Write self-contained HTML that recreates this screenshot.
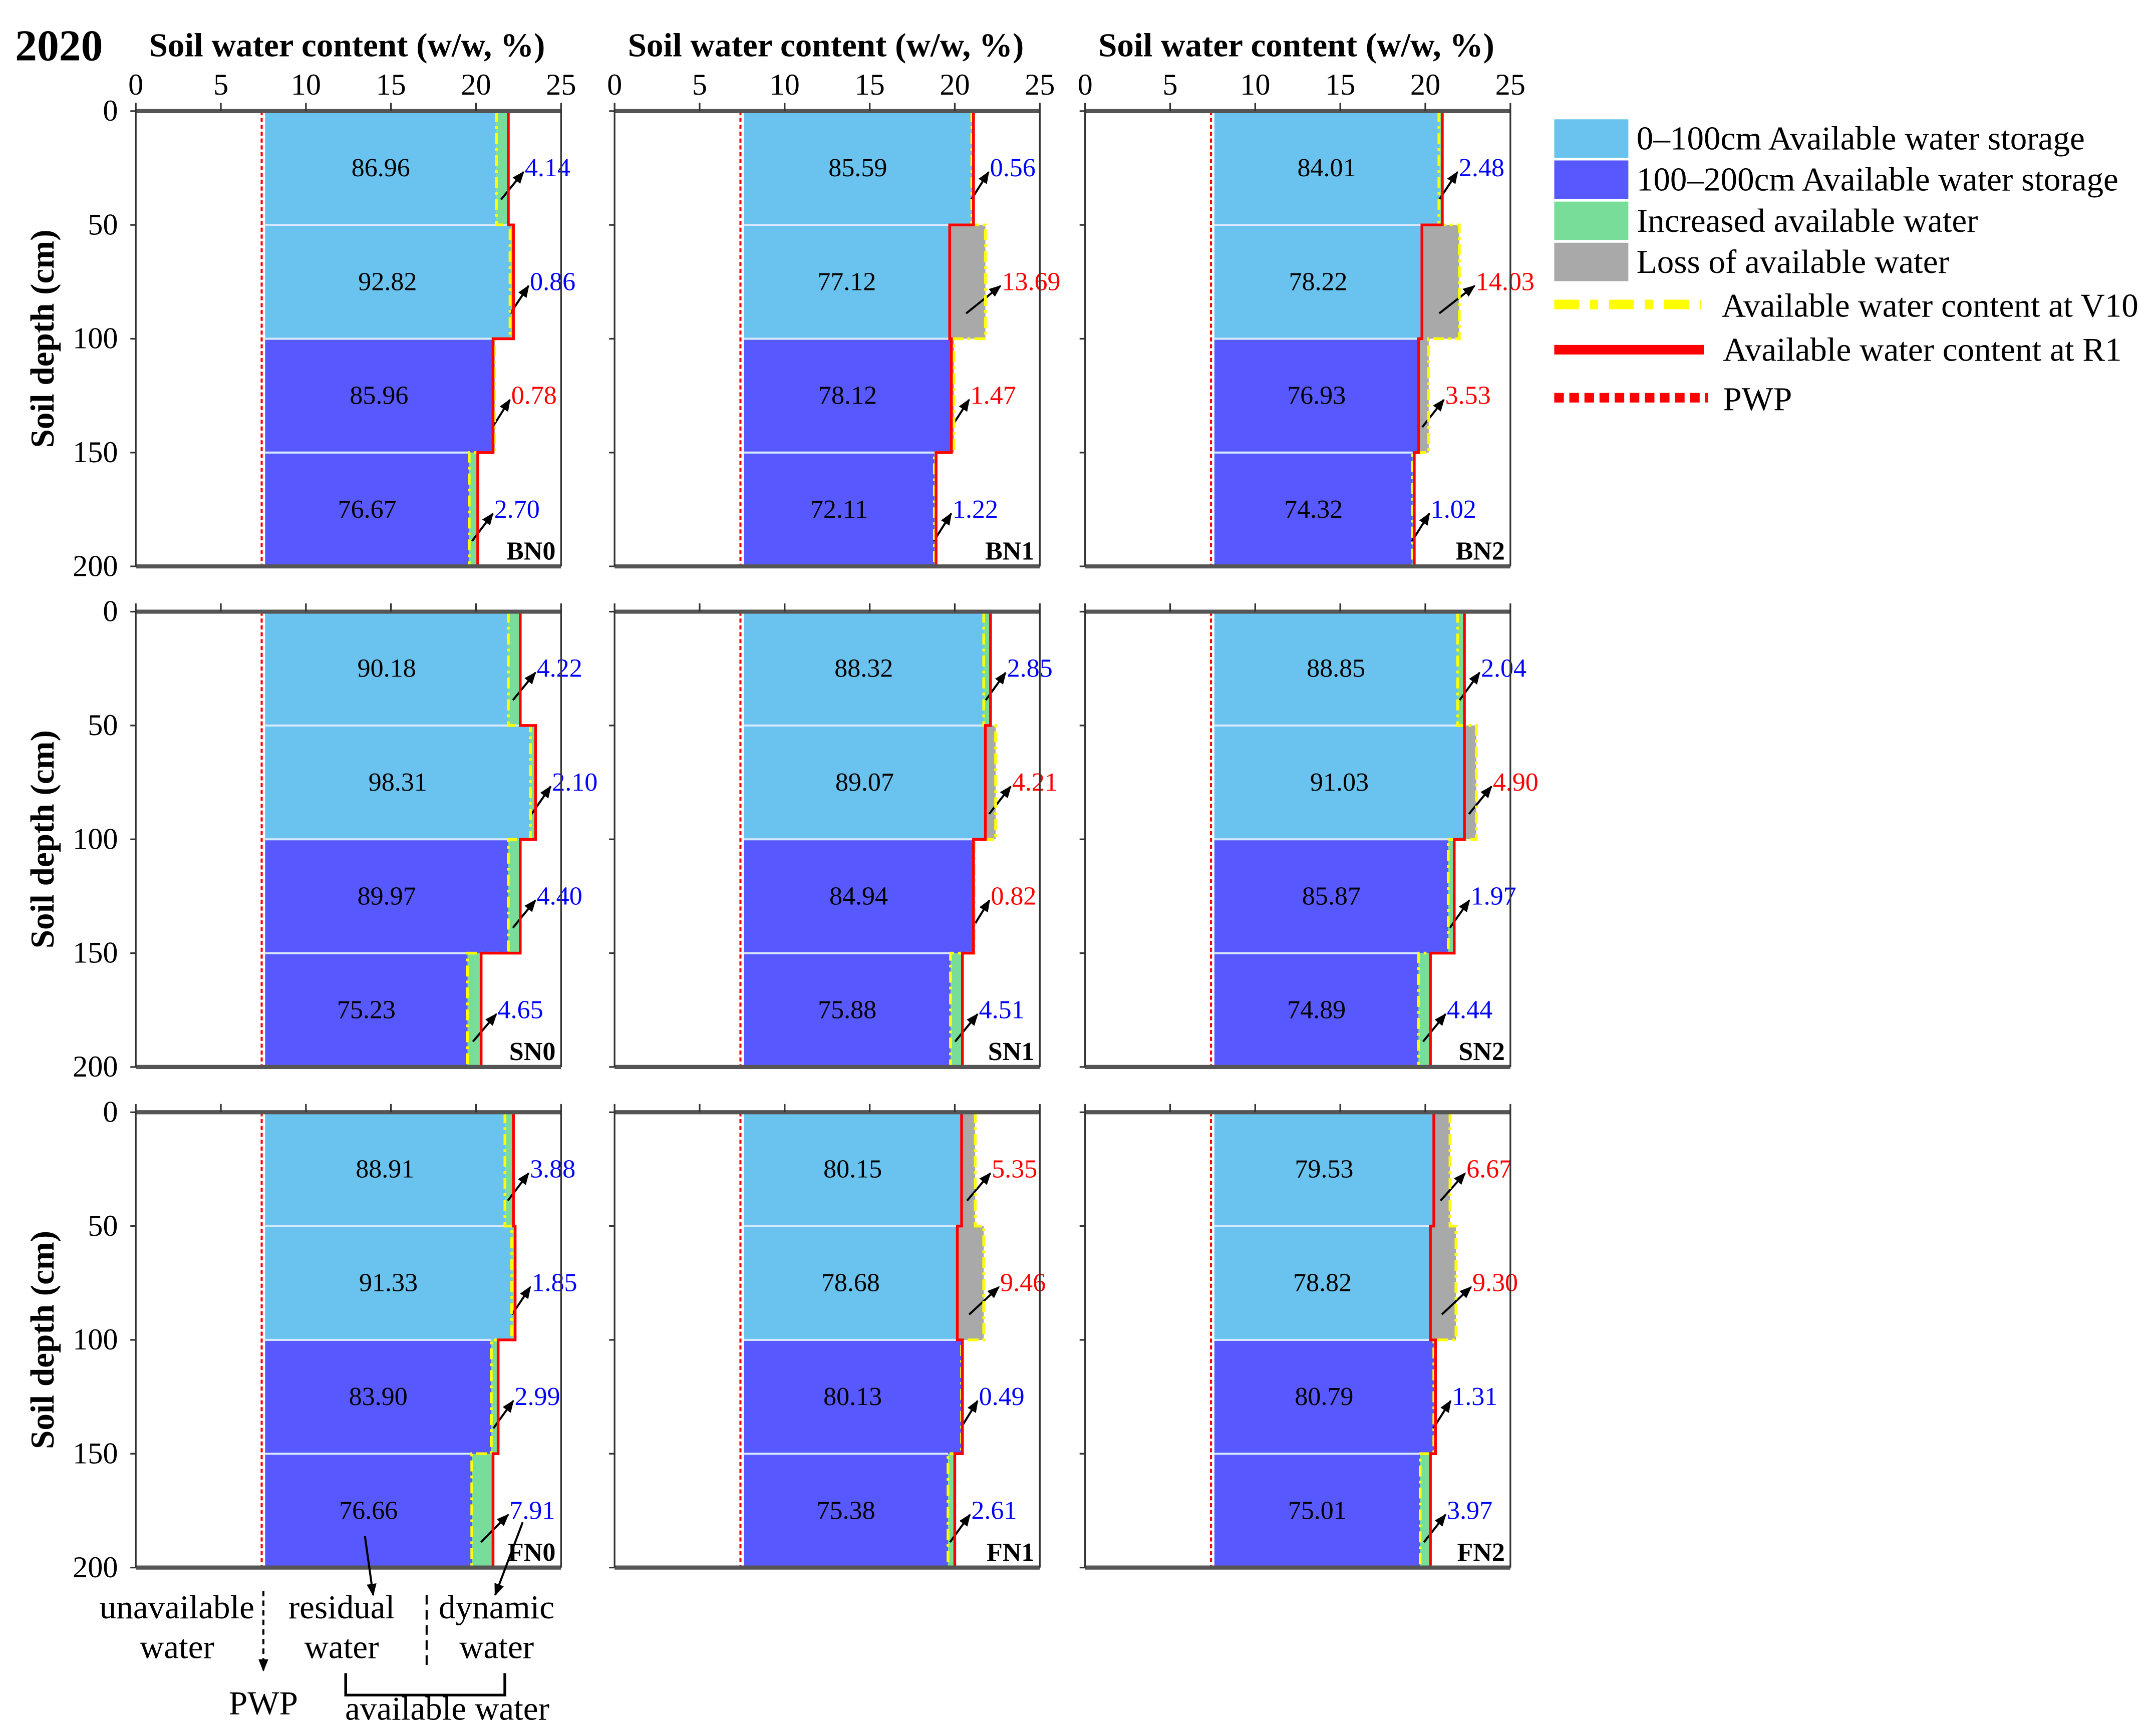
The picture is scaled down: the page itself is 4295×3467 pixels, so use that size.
<!DOCTYPE html>
<html><head><meta charset="utf-8"><style>
html,body{margin:0;padding:0;background:#fff}
svg, svg text{font-family:"Liberation Serif","Times New Roman","DejaVu Serif",serif}
</style></head><body>
<svg id="chart" width="4295" height="3462" viewBox="0 0 1568 1264" preserveAspectRatio="none" xmlns="http://www.w3.org/2000/svg" font-family="Liberation Serif, serif">
<defs><marker id="ah" viewBox="0 0 10 10" refX="9" refY="5" markerWidth="6" markerHeight="6" orient="auto"><path d="M0,1 L10,5 L0,9 z" fill="#000"/></marker></defs>
<text x="11" y="44" font-size="32" font-weight="bold">2020</text>
<g id="panels"></g>
<g font-size="24.5">
  <rect x="1133" y="87" width="54" height="28" fill="#6AC3EE"/>
  <text x="1193" y="109">0–100cm Available water storage</text>
  <rect x="1133" y="117" width="54" height="28" fill="#5858FF"/>
  <text x="1193" y="139">100–200cm Available water storage</text>
  <rect x="1133" y="147" width="54" height="28" fill="#77DD99"/>
  <text x="1193" y="169">Increased available water</text>
  <rect x="1133" y="177" width="54" height="28" fill="#A9A9A9"/>
  <text x="1193" y="199">Loss of available water</text>
  <line x1="1133" y1="222" x2="1240" y2="222" stroke="#FFFF00" stroke-width="7" stroke-dasharray="18,8,6,8"/>
  <text x="1255" y="231">Available water content at V10</text>
  <line x1="1133" y1="255" x2="1242" y2="255" stroke="#FF0000" stroke-width="7"/>
  <text x="1256" y="263">Available water content at R1</text>
  <line x1="1133" y1="290" x2="1245" y2="290" stroke="#FF0000" stroke-width="7" stroke-dasharray="7,4"/>
  <text x="1256" y="299">PWP</text>
</g>
<g font-size="24.5" text-anchor="middle">
  <text x="129" y="1180">unavailable</text>
  <text x="129" y="1209">water</text>
  <line x1="192" y1="1160" x2="192" y2="1218" stroke="#000" stroke-width="1.5" stroke-dasharray="4,3" marker-end="url(#ah)"/>
  <text x="249" y="1180">residual</text>
  <text x="249" y="1209">water</text>
  <line x1="311" y1="1163" x2="311" y2="1216" stroke="#000" stroke-width="1.5" stroke-dasharray="7,4"/>
  <text x="362" y="1180">dynamic</text>
  <text x="362" y="1209">water</text>
  <path d="M252,1220 V1236 H368 V1220" fill="none" stroke="#000" stroke-width="2"/>
  <text x="192" y="1250">PWP</text>
  <text x="326" y="1254">available water</text>
  <line x1="266" y1="1120" x2="272" y2="1163" stroke="#000" stroke-width="1.5" marker-end="url(#ah)"/>
  <line x1="381" y1="1110" x2="361" y2="1163" stroke="#000" stroke-width="1.5" marker-end="url(#ah)"/>
</g>
</svg>
<script>
const panelNames = ["BN0","BN1","BN2","SN0","SN1","SN2","FN0","FN1","FN2"];
const v10Values = [
 [21.2,22.0,21.1,19.6],[21.0,21.8,19.95,18.8],[20.8,22.0,20.2,19.25],
 [21.9,23.2,21.9,19.5],[21.7,22.4,21.15,19.75],[21.9,23.0,21.35,19.6],
 [21.7,22.1,20.9,19.75],[21.2,21.7,20.4,19.6],[21.45,21.8,20.5,19.7]];
const r1Values = [
 [21.9,22.2,21.0,20.1],[21.1,19.7,19.8,18.9],[21.0,19.8,19.6,19.35],
 [22.6,23.5,22.6,20.3],[22.1,21.8,21.1,20.45],[22.3,22.3,21.7,20.3],
 [22.2,22.3,21.3,21.0],[20.4,20.15,20.45,20.0],[20.5,20.3,20.6,20.3]];
const storageLabels = [
 ["86.96","92.82","85.96","76.67"],["85.59","77.12","78.12","72.11"],["84.01","78.22","76.93","74.32"],
 ["90.18","98.31","89.97","75.23"],["88.32","89.07","84.94","75.88"],["88.85","91.03","85.87","74.89"],
 ["88.91","91.33","83.90","76.66"],["80.15","78.68","80.13","75.38"],["79.53","78.82","80.79","75.01"]];
const changeLabels = [
 ["4.14","0.86","0.78","2.70"],["0.56","13.69","1.47","1.22"],["2.48","14.03","3.53","1.02"],
 ["4.22","2.10","4.40","4.65"],["2.85","4.21","0.82","4.51"],["2.04","4.90","1.97","4.44"],
 ["3.88","1.85","2.99","7.91"],["5.35","9.46","0.49","2.61"],["6.67","9.30","1.31","3.97"]];
const xTicks = [0,5,10,15,20,25];
const yTicks = [0,50,100,150,200];
const layerTops = [0,50,100,150];
const pwpValue = 7.4;
const barStart = 7.6;

const NS = "http://www.w3.org/2000/svg";
const root = document.getElementById("panels");
const colX = [99,448,791], rowY = [81,446,811];
const W = 310, H = 332;
function mk(tag, attrs, parent){const e=document.createElementNS(NS,tag);for(const k in attrs)e.setAttribute(k,attrs[k]);parent.appendChild(e);return e;}

panelNames.forEach((name,i)=>{
  const c=i%3, r=Math.floor(i/3);
  const x0=colX[c], y0=rowY[r];
  const sx=v=>x0+v*W/25, sy=d=>y0+d*H/200;
  const g=mk("g",{},root);
  
  
  for(let k=0;k<4;k++){
    const t=layerTops[k], b=t+50;
    const v=v10Values[i][k], rr=r1Values[i][k];
    const lo=Math.min(v,rr), hi=Math.max(v,rr);
    const bar=mk("rect",{x:sx(barStart),y:sy(t),width:sx(lo)-sx(barStart),height:sy(b)-sy(t),fill:k<2?"#6AC3EE":"#5858FF"},g);
    
    
    const inc = rr>=v;
    const d=mk("rect",{x:sx(lo),y:sy(t),width:sx(hi)-sx(lo),height:sy(b)-sy(t),fill:inc?"#77DD99":"#A9A9A9"},g);
    
    
    if(k>0) mk("line",{x1:sx(barStart),x2:sx(lo),y1:sy(t),y2:sy(t),stroke:"#D8E8FF","stroke-width":1.5},g);
    const st=mk("text",{x:(sx(barStart)+sx(lo))/2,y:(sy(t)+sy(b))/2+6,"font-size":19,"text-anchor":"middle"},g);
    st.textContent=storageLabels[i][k];
    
    
    const lx=sx(hi)+12, ly=(sy(t)+sy(b))/2+6;
    const ct=mk("text",{x:lx,y:ly,"font-size":19,fill:inc?"#0000FF":"#FF0000"},g);
    ct.textContent=changeLabels[i][k];
    
    
    mk("line",{x1:(sx(lo)+sx(hi))/2-1,y1:ly+17,x2:lx-1,y2:ly-3,stroke:"#000","stroke-width":1.5,"marker-end":"url(#ah)"},g);
  }
  let pv="", pr="";
  for(let k=0;k<4;k++){
    const t=layerTops[k];
    pv+=(k?"L":"M")+sx(v10Values[i][k])+","+sy(t)+"L"+sx(v10Values[i][k])+","+sy(t+50);
    pr+=(k?"L":"M")+sx(r1Values[i][k])+","+sy(t)+"L"+sx(r1Values[i][k])+","+sy(t+50);
  }
  const lv=mk("path",{d:pv,fill:"none",stroke:"#FFFF00","stroke-width":2,"stroke-dasharray":"8,3,2,3"},g);
  
  
  const lr=mk("path",{d:pr,fill:"none",stroke:"#FF0000","stroke-width":2},g);
  
  
  const pw=mk("line",{x1:sx(pwpValue),x2:sx(pwpValue),y1:sy(0),y2:sy(200),stroke:"#FF0000","stroke-width":1.5,"stroke-dasharray":"3,2"},g);
  
  
  mk("line",{x1:x0,y1:y0,x2:x0+W,y2:y0,stroke:"#555","stroke-width":3},g);
  mk("line",{x1:x0,y1:y0+H,x2:x0+W,y2:y0+H,stroke:"#555","stroke-width":3},g);
  mk("line",{x1:x0,y1:y0,x2:x0,y2:y0+H,stroke:"#333","stroke-width":1.2},g);
  mk("line",{x1:x0+W,y1:y0,x2:x0+W,y2:y0+H,stroke:"#333","stroke-width":1.2},g);
  xTicks.forEach(v=>{
    mk("line",{x1:sx(v),x2:sx(v),y1:y0,y2:y0-6,stroke:"#333","stroke-width":1.2},g);
    if(r===0){
      const tl=mk("text",{x:sx(v),y:y0-12,"font-size":22,"text-anchor":"middle"},g);
      tl.textContent=v;
      
      
    }
  });
  yTicks.forEach(v=>{
    mk("line",{x1:x0,x2:x0-4,y1:sy(v),y2:sy(v),stroke:"#333","stroke-width":1.2},g);
    if(c===0){
      const tl=mk("text",{x:x0-13,y:sy(v)+7,"font-size":22,"text-anchor":"end"},g);
      tl.textContent=v;
      
      
    }
  });
  const pl=mk("text",{x:x0+W-4,y:y0+H-5,"font-size":19,"font-weight":"bold","text-anchor":"end"},g);
  pl.textContent=name;
  
  
  if(r===0){
    const tt=mk("text",{x:x0+W/2-1,y:41,"font-size":24.5,"font-weight":"bold","text-anchor":"middle"},g);
    tt.textContent="Soil water content (w/w, %)";
    
    
  }
  if(c===0){
    const yt=mk("text",{x:0,y:0,"font-size":24.5,"font-weight":"bold","text-anchor":"middle",transform:"translate(39,"+(y0+H/2)+") rotate(-90)"},g);
    yt.textContent="Soil depth (cm)";
    
    
  }
});
</script>
</body></html>
